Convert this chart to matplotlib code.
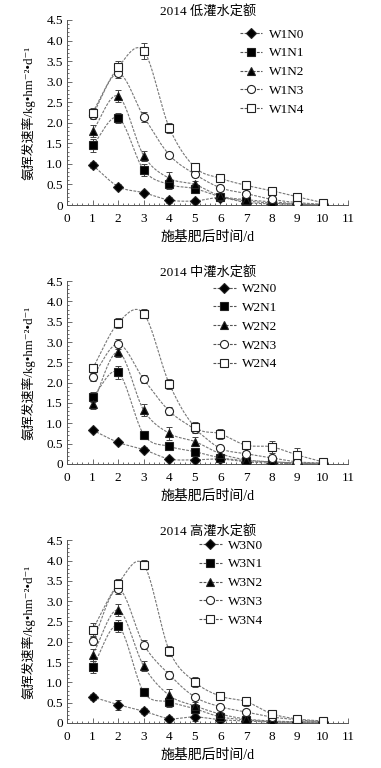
import numpy as np
import matplotlib
matplotlib.use("Agg")
from matplotlib import pyplot as plt
from matplotlib.ticker import MultipleLocator

plt.rcParams['font.family'] = ['Liberation Serif', 'Noto Sans CJK SC', 'DejaVu Serif']
plt.rcParams['axes.unicode_minus'] = False

days = [1, 2, 3, 4, 5, 6, 7, 8, 9, 10]
titles = ["2014 低灌水定额", "2014 中灌水定额", "2014 高灌水定额"]
x_label = "施基肥后时间/d"
y_label = "氨挥发速率/kg•hm⁻²•d⁻¹"

# panel 1: low irrigation
w1_names = ["W1N0", "W1N1", "W1N2", "W1N3", "W1N4"]
w1_vals = [
    [0.97, 0.45, 0.30, 0.12, 0.10, 0.18, 0.06, 0.03, 0.02, 0.00],
    [1.45, 2.12, 0.85, 0.50, 0.40, 0.20, 0.10, 0.05, 0.02, 0.00],
    [1.80, 2.65, 1.20, 0.65, 0.50, 0.22, 0.13, 0.08, 0.03, 0.01],
    [2.20, 3.20, 2.15, 1.22, 0.75, 0.42, 0.28, 0.14, 0.06, 0.02],
    [2.25, 3.35, 3.75, 1.88, 0.92, 0.65, 0.48, 0.35, 0.20, 0.06],
]
w1_err = [
    [0.08, 0.05, 0.05, 0.08, 0.04, 0.06, 0.08, 0.08, 0.04, 0.03],
    [0.15, 0.12, 0.15, 0.12, 0.10, 0.06, 0.06, 0.05, 0.04, 0.03],
    [0.15, 0.15, 0.12, 0.15, 0.08, 0.06, 0.05, 0.05, 0.04, 0.03],
    [0.10, 0.12, 0.12, 0.08, 0.08, 0.06, 0.06, 0.05, 0.04, 0.03],
    [0.12, 0.15, 0.20, 0.12, 0.08, 0.06, 0.06, 0.06, 0.05, 0.04],
]

# panel 2: medium irrigation
w2_names = ["W2N0", "W2N1", "W2N2", "W2N3", "W2N4"]
w2_vals = [
    [0.83, 0.53, 0.35, 0.12, 0.10, 0.12, 0.05, 0.02, 0.00, 0.00],
    [1.65, 2.25, 0.72, 0.43, 0.30, 0.15, 0.08, 0.05, 0.02, 0.00],
    [1.48, 2.75, 1.32, 0.75, 0.55, 0.25, 0.10, 0.05, 0.02, 0.02],
    [2.15, 2.95, 2.08, 1.30, 0.85, 0.38, 0.25, 0.15, 0.05, 0.02],
    [2.35, 3.47, 3.70, 1.97, 0.92, 0.74, 0.46, 0.42, 0.22, 0.05],
]
w2_err = [
    [0.05, 0.05, 0.06, 0.06, 0.05, 0.05, 0.08, 0.05, 0.04, 0.03],
    [0.12, 0.15, 0.10, 0.10, 0.08, 0.06, 0.06, 0.05, 0.04, 0.03],
    [0.12, 0.12, 0.15, 0.15, 0.10, 0.06, 0.06, 0.05, 0.04, 0.03],
    [0.12, 0.12, 0.10, 0.10, 0.10, 0.06, 0.06, 0.05, 0.04, 0.03],
    [0.12, 0.12, 0.12, 0.12, 0.10, 0.12, 0.08, 0.15, 0.18, 0.10],
]

# panel 3: high irrigation
w3_names = ["W3N0", "W3N1", "W3N2", "W3N3", "W3N4"]
w3_vals = [
    [0.64, 0.45, 0.29, 0.11, 0.15, 0.08, 0.05, 0.02, 0.02, 0.02],
    [1.38, 2.38, 0.76, 0.52, 0.35, 0.15, 0.08, 0.03, 0.02, 0.02],
    [1.68, 2.78, 1.40, 0.68, 0.42, 0.22, 0.10, 0.05, 0.03, 0.02],
    [2.01, 3.30, 1.93, 1.19, 0.64, 0.40, 0.27, 0.15, 0.08, 0.03],
    [2.30, 3.43, 3.90, 1.78, 1.01, 0.66, 0.53, 0.23, 0.10, 0.05],
]
w3_err = [
    [0.08, 0.12, 0.08, 0.06, 0.10, 0.08, 0.06, 0.05, 0.04, 0.05],
    [0.15, 0.15, 0.10, 0.12, 0.12, 0.10, 0.06, 0.05, 0.04, 0.04],
    [0.15, 0.15, 0.12, 0.15, 0.10, 0.06, 0.06, 0.05, 0.04, 0.04],
    [0.10, 0.12, 0.12, 0.10, 0.08, 0.06, 0.06, 0.05, 0.04, 0.03],
    [0.15, 0.12, 0.12, 0.12, 0.12, 0.08, 0.10, 0.08, 0.05, 0.05],
]

markers = ['D', 's', '^', 'o', 's']
faces = ['black', 'black', 'black', 'white', 'white']
sizes = [4.8, 5.2, 5.8, 5.8, 6.0]


def smooth(xs, ys, n=24):
    # catmull-rom curve through the points, like excel "smoothed line"
    xs = np.asarray(xs, float)
    ys = np.asarray(ys, float)
    px = np.concatenate([[2 * xs[0] - xs[1]], xs, [2 * xs[-1] - xs[-2]]])
    py = np.concatenate([[2 * ys[0] - ys[1]], ys, [2 * ys[-1] - ys[-2]]])
    t = np.linspace(0, 1, n)[:, None]
    out_x, out_y = [], []
    for i in range(1, len(px) - 2):
        for p, out in ((px, out_x), (py, out_y)):
            p0, p1, p2, p3 = p[i - 1], p[i], p[i + 1], p[i + 2]
            seg = 0.5 * ((2 * p1) + (-p0 + p2) * t + (2 * p0 - 5 * p1 + 4 * p2 - p3) * t ** 2
                         + (-p0 + 3 * p1 - 3 * p2 + p3) * t ** 3)
            out.append(seg.ravel())
    return np.concatenate(out_x), np.clip(np.concatenate(out_y), 0, None)


fig = plt.figure(figsize=(3.81, 7.68), dpi=100)
panels = [
    (w1_names, w1_vals, w1_err, [0.176, 0.733, 0.738, 0.241], (0.615, 0.955)),
    (w2_names, w2_vals, w2_err, [0.176, 0.396, 0.738, 0.238], (0.52, 0.99)),
    (w3_names, w3_vals, w3_err, [0.176, 0.0586, 0.738, 0.238], (0.47, 1.005)),
]

for k, (names, vals, errs, rect, leg_pos) in enumerate(panels):
    ax = fig.add_axes(rect)
    for i in range(5):
        sx, sy = smooth(days, vals[i])
        ax.plot(sx, sy, color='#777777', lw=0.8, ls=(0, (2.5, 1.2)), zorder=2)
        ax.errorbar(days, vals[i], yerr=errs[i], fmt='none', ecolor='#444444',
                    elinewidth=0.7, capsize=2, capthick=0.7, zorder=3)
        ax.plot(days, vals[i], ls='none', marker=markers[i], ms=sizes[i],
                mfc=faces[i], mec='#222222', mew=0.8, zorder=4)
    # legend entries
    handles = []
    for i in range(5):
        h, = ax.plot([], [], color='#555555', lw=0.8, ls=(0, (2.5, 1.2)),
                     marker=markers[i], ms=sizes[i], mfc=faces[i], mec='#222222', mew=0.8)
        handles.append(h)
    ax.legend(handles, names, loc='upper left', bbox_to_anchor=leg_pos, frameon=False,
              fontsize=9.5, handlelength=1.7, handletextpad=0.5, labelspacing=0.5,
              borderpad=0, borderaxespad=0)

    ax.set_xlim(0, 11)
    ax.set_ylim(0, 4.5)
    ax.set_xticks(range(0, 12))
    ax.set_yticks([0, 0.5, 1.0, 1.5, 2.0, 2.5, 3.0, 3.5, 4.0, 4.5])
    ax.set_yticklabels(['0', '0.5', '1.0', '1.5', '2.0', '2.5', '3.0', '3.5', '4.0', '4.5'])
    ax.xaxis.set_minor_locator(MultipleLocator(0.2))
    ax.yaxis.set_minor_locator(MultipleLocator(0.1))
    ax.tick_params(which='both', direction='in', labelsize=9.5, color='#555555', width=0.6)
    ax.tick_params(which='major', length=3.5)
    ax.tick_params(axis='x', which='major', pad=6)
    ax.tick_params(axis='y', which='major', pad=3)
    ax.tick_params(which='minor', length=1.5)
    ax.spines['top'].set_visible(False)
    ax.spines['right'].set_visible(False)
    for s in ('left', 'bottom'):
        ax.spines[s].set_color('#555555')
        ax.spines[s].set_linewidth(0.7)
    ax.set_title(titles[k], fontsize=9.5, pad=3)
    ax.set_xlabel(x_label, fontsize=10, labelpad=4)
    ax.set_ylabel(y_label, fontsize=9.3, labelpad=8)

fig.savefig("out.png", dpi=100)
